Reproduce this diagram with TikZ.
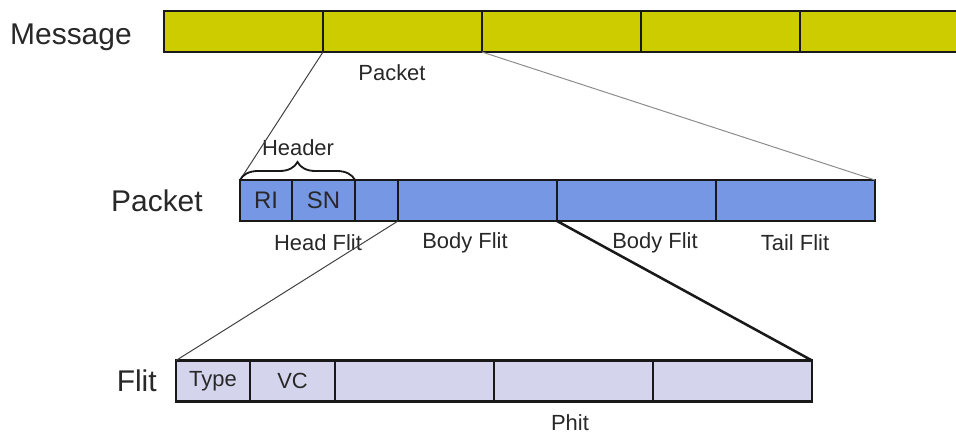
\documentclass[tikz,border=0pt]{standalone}
\usepackage{fontspec}
\setmainfont{Liberation Sans}
\usetikzlibrary{positioning, decorations.pathreplacing}
\newcommand{\px}{0.025cm}
\definecolor{msgyellow}{RGB}{204,204,0}
\definecolor{pktblue}{RGB}{118,151,228}
\definecolor{fltlilac}{RGB}{212,213,236}
\definecolor{inkgray}{RGB}{40,40,40}
\tikzset{
  seg/.style={rectangle, draw=black!90, line width=1.8pt, outer sep=0pt, inner sep=0pt,
              minimum height=41*\px, minimum width=159*\px},
  msgseg/.style={seg, fill=msgyellow},
  pktseg/.style={seg, fill=pktblue, font=\fontsize{17}{20}\selectfont, text=inkgray},
  fltseg/.style={seg, fill=fltlilac, font=\fontsize{15.6}{18}\selectfont, text=inkgray},
  biglbl/.style={font=\fontsize{21.3}{24}\selectfont, text=inkgray, inner sep=0pt},
  lbl/.style={font=\fontsize{15.6}{18}\selectfont, text=inkgray, inner sep=0pt},
  link/.style={draw=black!75, line width=0.7pt},
}

\begin{document}
\begin{tikzpicture}[x=0.025cm, y=-0.025cm]
  \clip (0,0) rectangle (956,436);
  \fill[white] (0,0) rectangle (956,436);

  % Message row
  \node[msgseg, anchor=west] (m1) at (164,31.5) {};
  \node[msgseg, right=0pt of m1] (m2) {};
  \node[msgseg, right=0pt of m2] (m3) {};
  \node[msgseg, right=0pt of m3] (m4) {};
  \node[msgseg, right=0pt of m4] (m5) {};
  \node[biglbl, left=0.8cm of m1, yshift=-0.15cm] (msglbl) {Message};
  \node[lbl] (pktname) at (392,73) {Packet};

  % Packet row
  \node[pktseg, anchor=west, minimum width=52*\px] (p1) at (240,200.5) {RI};
  \node[pktseg, right=0pt of p1, minimum width=63*\px] (p2) {SN};
  \node[pktseg, right=0pt of p2, minimum width=43*\px] (p3) {};
  \node[pktseg, right=0pt of p3] (p4) {};
  \node[pktseg, right=0pt of p4] (p5) {};
  \node[pktseg, right=0pt of p5] (p6) {};
  \node[biglbl, left=0.925cm of p1] (pktlbl) {Packet};
  \node[lbl] (hdr) at (298,148) {Header};
  \node[lbl] (headflit) at (318,243) {Head Flit};
  \node[lbl] (bodyflit1) at (465,243) {Body Flit};
  \node[lbl] (bodyflit2) at (655,243) {Body Flit};
  \node[lbl] (tailflit) at (795,243) {Tail Flit};

  % Flit row
  \node[fltseg, anchor=west, minimum width=74*\px] (f1) at (176,381) {Type};
  \node[fltseg, right=0pt of f1, minimum width=85*\px] (f2) {VC};
  \node[fltseg, right=0pt of f2] (f3) {};
  \node[fltseg, right=0pt of f3] (f4) {};
  \node[fltseg, right=0pt of f4] (f5) {};
  \node[biglbl, left=0.475cm of f1] (fltlbl) {Flit};
  \node[lbl] (phit) at (570,423) {Phit};

  % Zoom lines
  \draw[link] (m1.south east) -- (p1.north west);
  \draw[link, draw=black!45] (m2.south east) -- (p6.north east);
  \draw[link] (p3.south east) -- (f1.north west);
  \draw[link, line width=1.8pt, draw=black!90] (p4.south east) -- (f5.north east);

  % Header brace
  \draw[decorate, decoration={brace, amplitude=0.45cm}, line width=1.3pt, draw=black!90]
    (p1.north west) -- (p2.north east);

\end{tikzpicture}
\end{document}
